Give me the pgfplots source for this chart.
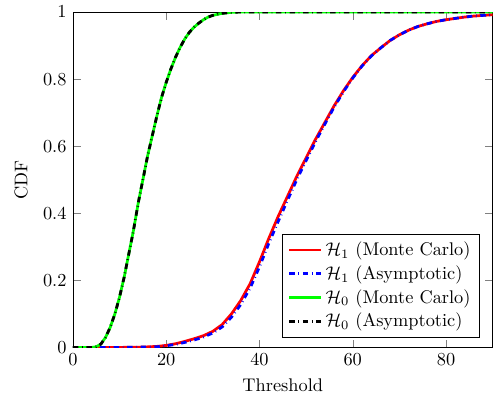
\documentclass[border=0pt]{standalone}
\usepackage{pgfplots}
\pgfplotsset{compat=1.18}
\begin{document}
\begin{tikzpicture}
\begin{axis}[
  scale only axis,
  width=229pt, height=183pt,
  xmin=0, xmax=90, ymin=0, ymax=1,
  xtick={0,20,40,60,80},
  ytick={0,0.2,0.4,0.6,0.8,1},
  xlabel={Threshold}, ylabel={CDF},
  ylabel style={xshift=0pt, yshift=1.5pt},
  legend pos=south east,
  legend cell align=left,
  legend style={font=\normalsize},
]
\addplot[red, line width=1.5pt] coordinates {
(0,0) (10,0) (15,0.001) (18,0.003) (20,0.006) (22,0.011) (24,0.018) (26,0.026) (28,0.035) (30,0.048) (32,0.068) (34,0.1) (36,0.14) (38,0.19) (40,0.255) (42,0.325) (44,0.39) (46,0.45) (48,0.51) (50,0.565) (52,0.62) (54,0.67) (56,0.72) (58,0.765) (60,0.805) (62,0.84) (64,0.87) (66,0.893) (68,0.915) (70,0.932) (72,0.946) (74,0.957) (76,0.965) (78,0.972) (80,0.977) (82,0.981) (84,0.985) (86,0.988) (88,0.990) (90,0.992)};
\addlegendentry{$\mathcal{H}_1$ (Monte Carlo)}
\addplot[blue, dashdotted, line width=1.5pt] coordinates {
(0,0) (10,0) (15,0.001) (18,0.002) (20,0.005) (22,0.009) (24,0.015) (26,0.022) (28,0.031) (30,0.043) (32,0.061) (34,0.09) (36,0.128) (38,0.177) (40,0.24) (42,0.31) (44,0.375) (46,0.438) (48,0.5) (50,0.557) (52,0.613) (54,0.665) (56,0.716) (58,0.762) (60,0.803) (62,0.839) (64,0.869) (66,0.893) (68,0.915) (70,0.932) (72,0.946) (74,0.957) (76,0.965) (78,0.972) (80,0.977) (82,0.981) (84,0.985) (86,0.988) (88,0.990) (90,0.992)};
\addlegendentry{$\mathcal{H}_1$ (Asymptotic)}
\addplot[green, line width=1.5pt] coordinates {
(0,0) (4,0) (5,0.002) (6,0.01) (7,0.03) (8,0.06) (9,0.1) (10,0.15) (11,0.21) (12,0.28) (13,0.35) (14,0.43) (15,0.5) (16,0.57) (17,0.63) (18,0.69) (19,0.745) (20,0.79) (21,0.83) (22,0.865) (23,0.895) (24,0.92) (25,0.94) (26,0.955) (27,0.967) (28,0.977) (29,0.985) (30,0.99) (32,0.996) (34,0.999) (36,1) (90,1)};
\addlegendentry{$\mathcal{H}_0$ (Monte Carlo)}
\addplot[black, dashdotted, line width=1.5pt] coordinates {
(0,0) (4,0) (5,0.002) (6,0.01) (7,0.03) (8,0.06) (9,0.1) (10,0.15) (11,0.21) (12,0.28) (13,0.35) (14,0.43) (15,0.5) (16,0.57) (17,0.63) (18,0.69) (19,0.745) (20,0.79) (21,0.83) (22,0.865) (23,0.895) (24,0.92) (25,0.94) (26,0.955) (27,0.967) (28,0.977) (29,0.985) (30,0.99) (32,0.996) (34,0.999) (36,1) (90,1)};
\addlegendentry{$\mathcal{H}_0$ (Asymptotic)}
\end{axis}
\path ([xshift=-4.5pt]current bounding box.west);
\end{tikzpicture}
\end{document}
